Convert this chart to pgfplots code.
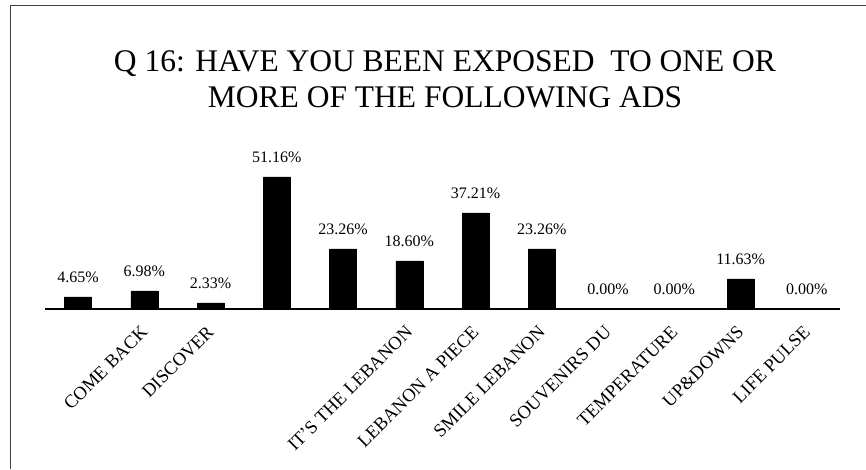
\documentclass[border=0pt]{standalone}
\usepackage{fontspec}
\setmainfont{Liberation Serif}
\usepackage{pgfplots}
\pgfplotsset{compat=1.18}
\begin{document}
\begin{tikzpicture}[x=1pt,y=1pt]
\useasboundingbox (0,0) rectangle (866,469);
\draw[line width=1pt, black!75] (10,0) -- (10,463) -- (866,463);
\node[anchor=base, font=\fontsize{31.5}{36}\selectfont] at (445,397) {Q 16: HAVE YOU BEEN EXPOSED\ \ TO ONE OR};
\node[anchor=base, font=\fontsize{31.5}{36}\selectfont] at (445,361) {MORE OF THE FOLLOWING ADS};
\begin{axis}[
  at={(45pt,160pt)}, anchor=south west,
  width=795pt, height=155pt, scale only axis,
  xmin=-0.5, xmax=11.5, ymin=0, ymax=60,
  axis x line*=bottom, axis y line=none,
  x axis line style={-, line width=1.3pt},
  ytick=\empty,
  xtick={0,...,11},
  xticklabels={{}, COME BACK, DISCOVER, {}, {}, IT'S THE LEBANON, LEBANON A PIECE, SMILE LEBANON, SOUVENIRS DU, TEMPERATURE, UP\&DOWNS, LIFE PULSE},
  major tick length=0pt,
  xticklabel style={yshift=-20pt, xshift=0pt, rotate=45, anchor=east, font=\fontsize{18.5}{18.5}\selectfont, inner sep=0pt},
  ybar, bar width=27pt,
  /pgf/number format/assume math mode=true,
  nodes near coords={\pgfmathprintnumber[fixed, fixed zerofill, precision=2, assume math mode=true]{\pgfplotspointmeta}\%},
  every node near coord/.append style={font=\fontsize{16}{16}\selectfont, yshift=11pt},
  clip=false,
]
\addplot[fill=black, draw=black] coordinates {
 (0,4.65) (1,6.98) (2,2.33) (3,51.16) (4,23.26) (5,18.60)
 (6,37.21) (7,23.26) (8,0.00) (9,0.00) (10,11.63) (11,0.00)
};
\end{axis}
\end{tikzpicture}
\end{document}
